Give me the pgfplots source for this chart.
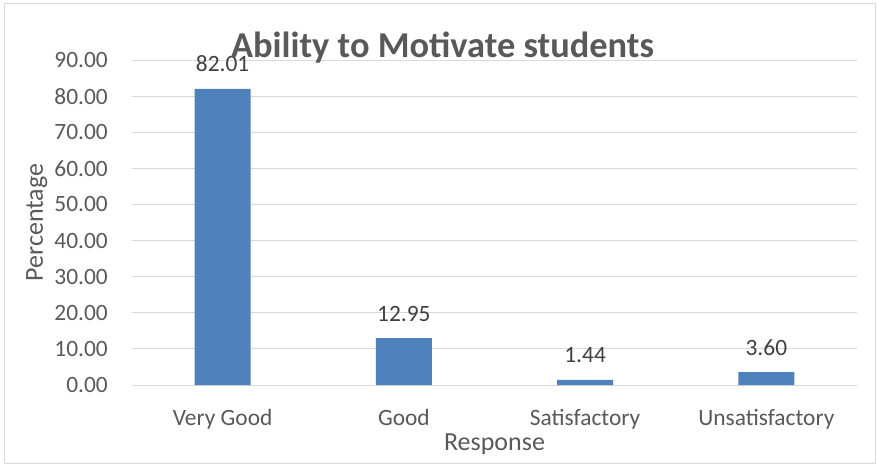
\documentclass[border=0pt]{standalone}
\usepackage{pgfplots}
\pgfplotsset{compat=1.18}
\usepackage{fontspec}
\setmainfont{Carlito}
\definecolor{barblue}{HTML}{4F81BD}
\definecolor{txt}{HTML}{595959}
\definecolor{lbl}{HTML}{404040}
\definecolor{grd}{HTML}{D9D9D9}
\begin{document}
\begin{tikzpicture}
\useasboundingbox (-132bp,-80bp) rectangle (745bp,385bp);
\draw[grd, line width=1bp] (-127bp,-78bp) rectangle (743bp,381bp);
\begin{axis}[
  at={(0,0)}, anchor=south west,
  scale only axis, width=725bp, height=325bp,
  xmin=-0.5, xmax=3.5, ymin=0, ymax=90,
  ybar, bar width=56bp, bar shift=0pt,
  xtick={0,1,2,3},
  xticklabels={Very Good,Good,Satisfactory,Unsatisfactory},
  ytick={0,10,20,30,40,50,60,70,80,90},
  major tick length=0pt,
  axis line style={draw=none},
  ymajorgrids, grid style={grd, line width=1bp},
  clip=false,
  /pgf/number format/.cd, fixed, fixed zerofill, precision=2, assume math mode=true,
  /pgfplots/.cd,
  yticklabel style={font=\fontsize{23.4bp}{28bp}\selectfont, text=txt, anchor=east, inner sep=0pt, xshift=-24bp},
  xticklabel style={font=\fontsize{23.4bp}{28bp}\selectfont, text=txt, anchor=base, inner sep=0pt, yshift=-40bp},
  nodes near coords,
  every node near coord/.append style={font=\fontsize{23.4bp}{28bp}\selectfont, text=lbl, inner sep=0pt, anchor=base, yshift=17bp},
]
\addplot[fill=barblue, draw=none] coordinates {(0,82.01) (1,12.95) (2,1.44) (3,3.60)};
\end{axis}
\node[anchor=base, text=txt, font=\fontsize{36.4bp}{44bp}\selectfont\bfseries] at (310.5bp,327bp) {Ability to Motivate students};
\node[anchor=base, rotate=90, text=txt, font=\fontsize{26bp}{31bp}\selectfont] at (-89bp,162.5bp) {Percentage};
\node[anchor=base, text=txt, font=\fontsize{26bp}{31bp}\selectfont] at (362.5bp,-65bp) {Response};
\end{tikzpicture}
\end{document}
